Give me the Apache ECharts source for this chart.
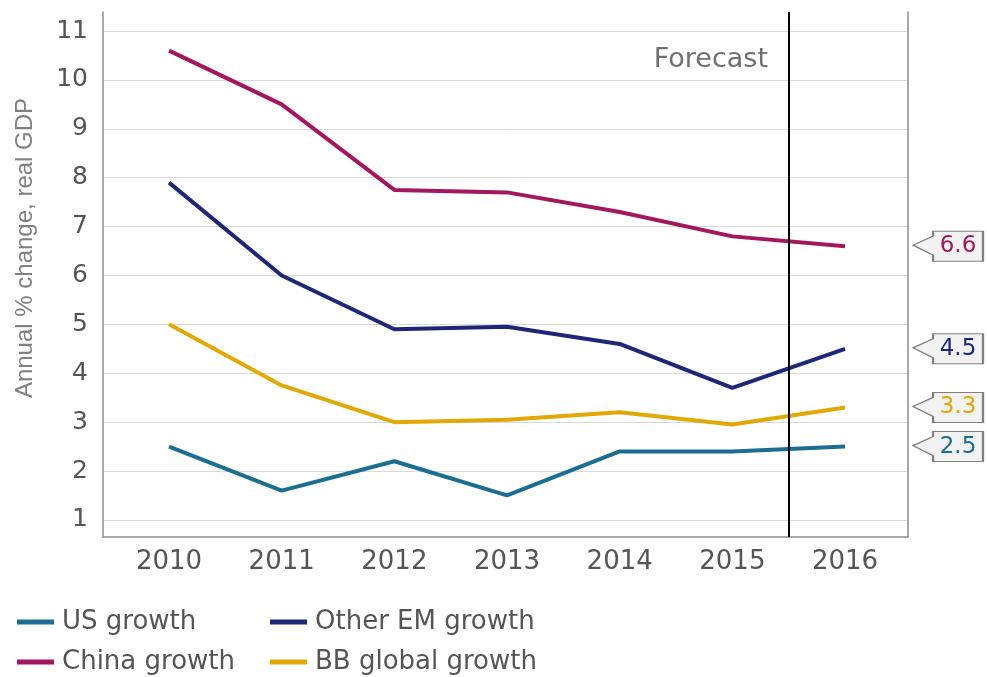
<!DOCTYPE html>
<html>
<head>
<meta charset="utf-8">
<script src="https://cdn.jsdelivr.net/npm/echarts@6/dist/echarts.min.js"></script>
<style>
html,body{margin:0;padding:0;background:#fff;}
#chart{width:987px;height:677px;}
</style>
</head>
<body>
<div id="chart"></div>
<script>
const years = ['2010', '2011', '2012', '2013', '2014', '2015', '2016'];
const usGrowth = [2.5, 1.6, 2.2, 1.5, 2.4, 2.4, 2.5];
const otherEmGrowth = [7.9, 6.0, 4.9, 4.95, 4.6, 3.7, 4.5];
const chinaGrowth = [10.6, 9.5, 7.75, 7.7, 7.3, 6.8, 6.6];
const bbGlobalGrowth = [5.0, 3.75, 3.0, 3.05, 3.2, 2.95, 3.3];
const yTicks = [1, 2, 3, 4, 5, 6, 7, 8, 9, 10, 11];
const forecastStart = 5.5;

const colors = {
  'US growth': '#1b6e92',
  'Other EM growth': '#1e2777',
  'China growth': '#a3175e',
  'BB global growth': '#e2a806'
};
const FONT = 'DejaVu Sans';
const TEXT = '#555555';
const calloutPath = 'path://M20,0 L70,0 L70,30 L20,30 L20,24 L0,14 L20,5 Z';

function makeSeries(name, values) {
  const last = values.length - 1;
  return {
    name: name,
    type: 'line',
    data: values.map((v, i) => [i, v]),
    symbol: 'none',
    lineStyle: { width: 4, color: colors[name] },
    itemStyle: { color: colors[name] },
    z: 3,
    markPoint: {
      silent: true,
      symbol: calloutPath,
      symbolSize: [70, 30],
      symbolOffset: [103, 0],
      itemStyle: { color: '#f2f2f2', borderColor: '#808080', borderWidth: 1.5 },
      label: {
        show: true, position: 'inside', offset: [10, 0],
        color: colors[name], fontSize: 23, fontFamily: FONT,
        formatter: () => values[last].toFixed(1)
      },
      data: [{ coord: [last, values[last]] }]
    }
  };
}

const chart = echarts.init(document.getElementById('chart'), null, { renderer: 'canvas' });
const series = [
  makeSeries('US growth', usGrowth),
  makeSeries('Other EM growth', otherEmGrowth),
  makeSeries('China growth', chinaGrowth),
  makeSeries('BB global growth', bbGlobalGrowth)
];
series[0].markLine = {
  silent: true,
  symbol: 'none',
  label: { show: false },
  lineStyle: { color: '#000', width: 2, type: 'solid' },
  data: [{ xAxis: forecastStart }]
};

chart.setOption({
  animation: false,
  backgroundColor: '#fff',
  grid: { left: 103, width: 805, top: 12, height: 525 },
  xAxis: {
    type: 'value', min: -0.586, max: 6.559,
    axisLine: { show: true, onZero: false, lineStyle: { color: '#8c8c8c', width: 1.5 } },
    axisTick: { show: false },
    splitLine: { show: false },
    axisLabel: {
      customValues: years.map((y, i) => i),
      formatter: v => years[v],
      fontFamily: FONT, fontSize: 26, color: TEXT, margin: 12
    }
  },
  yAxis: [{
    type: 'value', min: 0.65, max: 11.39,
    axisLine: { show: true, onZero: false, lineStyle: { color: '#8c8c8c', width: 1.5 } },
    axisTick: { show: false, customValues: yTicks },
    splitLine: { show: true, customValues: yTicks, lineStyle: { color: '#d9d9d9', width: 1 } },
    axisLabel: { customValues: yTicks, fontFamily: FONT, fontSize: 25, color: TEXT, margin: 15 }
  }, {
    type: 'value', min: 0.65, max: 11.39, position: 'right',
    axisLine: { show: true, onZero: false, lineStyle: { color: '#8c8c8c', width: 1.5 } },
    axisTick: { show: false }, axisLabel: { show: false }, splitLine: { show: false }
  }],
  legend: {
    data: ['US growth', 'Other EM growth', 'China growth', 'BB global growth'],
    orient: 'horizontal', left: 12, top: 603, width: 600,
    icon: 'rect', itemWidth: 37, itemHeight: 5, itemGap: 12,
    textStyle: { fontFamily: FONT, fontSize: 26, color: TEXT, width: 196, height: 25, lineHeight: 25, padding: [0, 0, 3, 3] }
  },
  graphic: [{
    type: 'text', x: 25, y: 248, rotation: Math.PI / 2,
    style: { text: 'Annual % change, real GDP', font: '24px "Liberation Sans"', fill: '#808080', align: 'center', verticalAlign: 'middle' }
  }, {
    type: 'text', x: 768, y: 60,
    style: { text: 'Forecast', font: '27px "DejaVu Sans"', fill: '#707070', align: 'right', verticalAlign: 'middle' }
  }],
  series: series
});
</script>
</body>
</html>
